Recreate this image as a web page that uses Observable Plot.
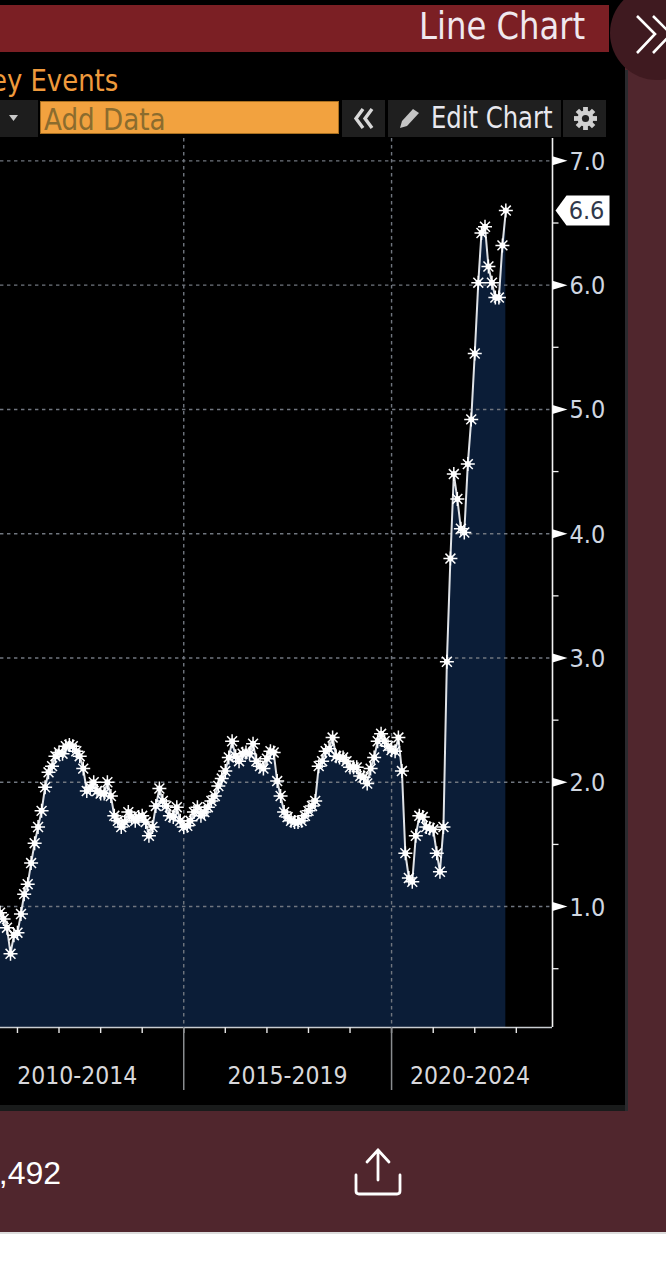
<!DOCTYPE html>
<html>
<head>
<meta charset="utf-8">
<script src="https://cdn.jsdelivr.net/npm/d3@7"></script>
<script src="https://cdn.jsdelivr.net/npm/@observablehq/plot@0.6"></script>
<style>
html,body{margin:0;padding:0;background:#fff;width:666px;height:1278px;overflow:hidden}
#page{position:relative;width:666px;height:1278px;overflow:hidden;font-family:"Liberation Sans Narrow","DejaVu Sans Condensed","Liberation Sans",sans-serif}
#page div{position:absolute;white-space:nowrap}
#page svg.icon{position:absolute;overflow:visible}
#chart{position:absolute;left:0;top:0}
#chart svg{display:block;background:transparent}
.sq{transform-origin:left center}
</style>
</head>
<body>
<div id="page">
  <div style="left:0;top:0;width:666px;height:1232px;background:#50262d"></div>
  <div style="left:0;top:1232px;width:666px;height:2px;background:#dcdcdc"></div>
  <div style="left:0;top:0;width:625px;height:1105px;background:#000"></div>
  <div style="left:0;top:1105px;width:625px;height:6px;background:#191b1b"></div>
  <div style="left:625px;top:70px;width:3px;height:1041px;background:#2a2a2e"></div>
  <div style="left:0;top:5px;width:609px;height:47px;background:#7b1f24"></div>
  <div style="left:610px;top:-14px;width:94px;height:94px;border-radius:47px;background:#3f1a20"></div>
  <svg class="icon" style="left:635px;top:14px" width="31" height="42" viewBox="0 0 31 42"><path d="M2 2 L20 20 L2 39 M18 2 L36 20 L18 39" fill="none" stroke="#fff" stroke-width="2.6"/></svg>
  <div class="sq" style="left:419px;top:7px;font-size:37px;line-height:40px;color:#f0e8ee;transform:scaleX(.97)">Line Chart</div>
  <div class="sq" style="left:-9px;top:63px;font-size:30px;line-height:36px;color:#ef9a3c;transform:scaleX(.96)">ey Events</div>
  <div style="left:0;top:100px;width:38px;height:37px;background:#1d1d1d"></div>
  <svg class="icon" style="left:9px;top:114px" width="10" height="8"><path d="M0 1 L9 1 L4.5 7 Z" fill="#c8c8c8"/></svg>
  <div style="left:40px;top:101px;width:299px;height:33px;background:#f2a23f;border:1px solid #a86f20;box-sizing:border-box"></div>
  <div class="sq" style="left:44px;top:102px;font-size:31px;line-height:34px;color:#8b6c2e;transform:scaleX(.94)">Add Data</div>
  <div style="left:342px;top:100px;width:43px;height:37px;background:#1f1f1f"></div>
  <svg class="icon" style="left:353px;top:107px" width="24" height="23"><path d="M10 2 L3 11.5 L10 21 M19 2 L12 11.5 L19 21" fill="none" stroke="#d8d8d8" stroke-width="3.4"/></svg>
  <div style="left:388px;top:100px;width:173px;height:37px;background:#1f1f1f"></div>
  <svg class="icon" style="left:397px;top:107px" width="24" height="24"><path d="M16 2 L22 6 L10 19 L3 21 L5 14 Z" fill="#c4c4c4"/></svg>
  <div class="sq" style="left:431px;top:101px;font-size:30px;line-height:34px;color:#e8e8ee;transform:scaleX(.9)">Edit Chart</div>
  <div style="left:563px;top:100px;width:43px;height:37px;background:#1f1f1f"></div>
  <svg class="icon" style="left:573px;top:106px" width="25" height="25" viewBox="-12.5 -12.5 25 25"><g fill="#d0d0d0"><circle r="8"/><rect x="-2.4" y="-11.5" width="4.8" height="23"/><rect x="-2.4" y="-11.5" width="4.8" height="23" transform="rotate(45)"/><rect x="-2.4" y="-11.5" width="4.8" height="23" transform="rotate(90)"/><rect x="-2.4" y="-11.5" width="4.8" height="23" transform="rotate(135)"/></g><circle r="3.6" fill="#1f1f1f"/></svg>
  <div style="left:-19px;top:1155px;font-family:'Liberation Sans',Arial,sans-serif;font-size:32px;line-height:36px;color:#fff">2,492</div>
  <svg class="icon" style="left:354px;top:1148px" width="48" height="48"><path d="M24 2 L13 14 M24 2 L35 14 M24 2 L24 32 M2 27 L2 43 Q2 46 5 46 L43 46 Q46 46 46 43 L46 27" fill="none" stroke="#fff" stroke-width="2.8" stroke-linecap="round"/></svg>
  <div id="chart"></div>
</div>
<script>
const firstMonth = "2010-08-01";
const yields = [
0.95,0.90,0.83,0.62,0.77,0.79,0.94,1.10,1.18,1.35,1.51,1.64,1.77,1.96,2.08,2.13,2.21,
2.24,2.23,2.29,2.30,2.29,2.25,2.21,2.11,1.93,1.96,2.00,1.93,1.91,1.91,2.00,1.89,
1.73,1.69,1.64,1.68,1.76,1.72,1.69,1.72,1.73,1.68,1.57,1.64,1.81,1.95,1.85,1.81,
1.73,1.72,1.80,1.69,1.64,1.65,1.69,1.76,1.80,1.73,1.76,1.80,1.85,1.89,1.97,2.03,
2.09,2.20,2.33,2.21,2.17,2.23,2.24,2.23,2.31,2.17,2.13,2.11,2.19,2.25,2.24,2.01,
1.89,1.76,1.72,1.69,1.68,1.68,1.69,1.73,1.77,1.81,1.85,2.13,2.17,2.25,2.27,2.36,
2.21,2.20,2.20,2.17,2.12,2.12,2.12,2.05,2.04,1.99,2.11,2.20,2.33,2.39,2.33,2.29,
2.26,2.25,2.36,2.09,1.43,1.23,1.20,1.57,1.73,1.72,1.64,1.63,1.62,1.43,1.28,1.64,
2.97,3.80,4.48,4.28,4.04,4.01,4.56,4.92,5.45,6.02,6.42,6.47,6.15,6.02,5.90,5.90,
6.32,6.60
];
const months = yields.map((_, i) => d3.utcMonth.offset(new Date(firstMonth), i));
const series = months.map((date, i) => ({date, value: yields[i]}));

const gridValues = [1, 2, 3, 4, 5, 6, 7];
const minorValues = [0.5, 1.5, 2.5, 3.5, 4.5, 5.5, 6.5];
const eraBreaks = [new Date("2015-01-01"), new Date("2020-01-01")];
const eraLabels = [
  {date: new Date("2012-06-10"), label: "2010-2014"},
  {date: new Date("2017-07-01"), label: "2015-2019"},
  {date: new Date("2021-11-20"), label: "2020-2024"}
];
const lastValue = 6.6;
const xStart = new Date("2010-08-05");
const xEnd = new Date("2023-11-15");
const yMin = 0.027, yMax = 7.18;

const star = {draw(ctx, size) {
  const r = Math.sqrt(size / Math.PI);
  for (let k = 0; k < 4; ++k) {
    const a = k * Math.PI / 4, c = r * Math.cos(a), s = r * Math.sin(a);
    ctx.moveTo(-c, -s); ctx.lineTo(c, s);
  }
}};
const arrow = {draw(ctx) { ctx.moveTo(0, -4.5); ctx.lineTo(15, 0); ctx.lineTo(0, 4.5); ctx.closePath(); }};
const minorTick = {draw(ctx) { ctx.moveTo(0, 0); ctx.lineTo(6, 0); }};
const flag = {draw(ctx) { ctx.moveTo(3, 0); ctx.lineTo(14, -15); ctx.lineTo(57, -15); ctx.lineTo(57, 15); ctx.lineTo(14, 15); ctx.closePath(); }};
const font = '"Liberation Sans Narrow","DejaVu Sans Condensed",sans-serif';

const chart = Plot.plot({
  width: 666, height: 1278,
  marginLeft: 0, marginRight: 114, marginTop: 138, marginBottom: 251,
  style: {background: "transparent", fontFamily: font, overflow: "visible"},
  x: {type: "utc", domain: [xStart, xEnd]},
  y: {domain: [yMin, yMax]},
  marks: [
    Plot.areaY(series, {x: "date", y1: yMin, y2: "value", fill: "#0b1d37"}),
    Plot.ruleY(gridValues, {stroke: "#70767f", strokeWidth: 1.4, strokeDasharray: "3.4 3.6"}),
    Plot.ruleX(eraBreaks, {stroke: "#70767f", strokeWidth: 1.4, strokeDasharray: "3.4 3.6"}),
    Plot.lineY(series, {x: "date", y: "value", stroke: "#dfe2e6", strokeWidth: 2}),
    Plot.dot(series, {x: "date", y: "value", symbol: star, r: 7, stroke: "#fff", strokeWidth: 1.5, fill: "none"}),
    Plot.dot(series, {x: "date", y: "value", r: 3, fill: "#fff"}),
    Plot.ruleX([xEnd], {stroke: "#f2f2f2", strokeWidth: 1.6}),
    Plot.ruleY([yMin], {stroke: "#c8ccd0", strokeWidth: 1.6}),
    Plot.axisX({ticks: d3.utcYear.every(1), tickSize: 6, tickPadding: 0, tickFormat: () => "", label: null, stroke: "#e8e8e8", strokeWidth: 1.4}),
    Plot.ruleX(eraBreaks, {y1: yMin, y2: yMin, insetBottom: -63, stroke: "#8a8d90", strokeWidth: 1.5}),
    Plot.text(eraLabels, {x: "date", y: yMin, text: "label", dy: 49, fontSize: 24.5, fill: "#d8d8dc"}),
    Plot.axisY({anchor: "right", ticks: gridValues, tickSize: 0, tickPadding: 17, dy: 1, tickFormat: d3.format(".1f"), label: null, fontSize: 25, fill: "#cfd6e0"}),
    Plot.dot(minorValues, {x: xEnd, y: d => d, symbol: minorTick, stroke: "#f2f2f2", strokeWidth: 1.3, fill: "none"}),
    Plot.dot(gridValues, {x: xEnd, y: d => d, symbol: arrow, fill: "#fff", stroke: "none"}),
    Plot.dot([lastValue], {x: xEnd, y: d => d, symbol: flag, fill: "#fff", stroke: "none"}),
    Plot.text([lastValue], {x: xEnd, y: d => d, text: d => d.toFixed(1), dx: 34, fontSize: 25, fill: "#30384a"})
  ]
});
document.getElementById("chart").appendChild(chart);
</script>
</body>
</html>
